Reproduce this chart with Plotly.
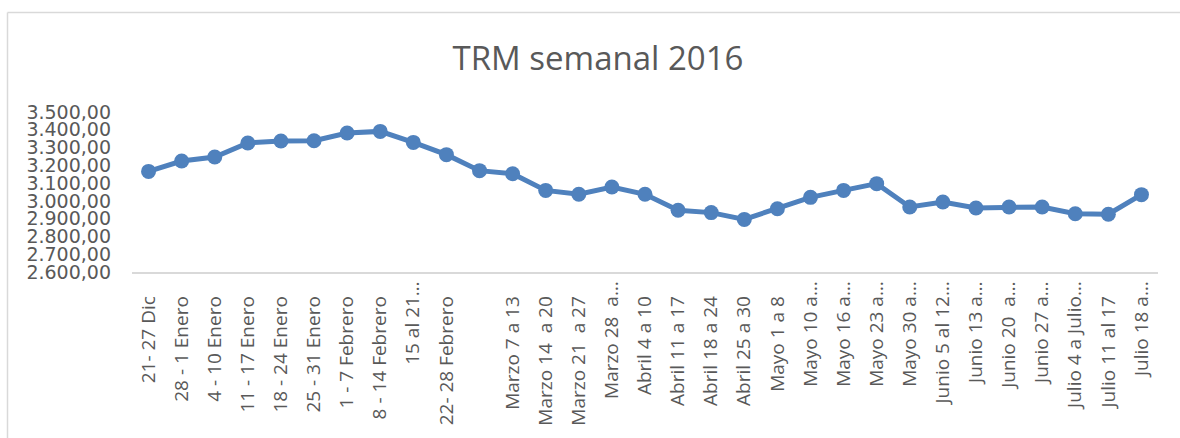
import plotly.graph_objects as go

categories = [
    "21- 27 Dic", "28 - 1 Enero", "4 - 10 Enero", "11 - 17 Enero", "18 - 24 Enero",
    "25 - 31 Enero", "1 - 7 Febrero", "8 - 14 Febrero", "15 al 21…", "22- 28 Febrero",
    "", "Marzo 7 a 13", "Marzo 14  a 20", "Marzo 21  a 27", "Marzo 28  a…",
    "Abril 4 a 10", "Abril 11 a 17", "Abril 18 a 24", "Abril 25 a 30", "Mayo 1 a 8",
    "Mayo 10 a…", "Mayo 16 a…", "Mayo 23 a…", "Mayo 30 a…", "Junio 5 al 12…",
    "Junio 13 a…", "Junio 20  a…", "Junio 27 a…", "Julio 4 a Julio…", "Julio 11 al 17",
    "Julio 18 a…",
]
trm = [
    3166, 3224, 3247, 3326, 3337, 3338, 3382, 3391, 3329, 3260,
    3170, 3153, 3059, 3037, 3078, 3037, 2947, 2934, 2896, 2956,
    3020, 3059, 3097, 2966, 2994, 2960, 2966, 2966, 2928, 2925,
    3035,
]
y_ticks = [2600, 2700, 2800, 2900, 3000, 3100, 3200, 3300, 3400, 3500]
y_tick_labels = ["2.600,00", "2.700,00", "2.800,00", "2.900,00", "3.000,00",
                 "3.100,00", "3.200,00", "3.300,00", "3.400,00", "3.500,00"]

x_idx = list(range(len(categories)))


def fmt(c):
    c = c.replace("  ", "\u00a0 ")
    if c == "" or c.endswith("…"):
        return c
    # labels that were not cut off sit a little further from the axis
    return c + "\u00a0\u00a0\u00a0"


tick_text = [fmt(c) for c in categories]

TEXT = "#595959"
LINE = "#4F81BD"

fig = go.Figure()
fig.add_trace(go.Scatter(
    x=x_idx, y=trm, mode="lines+markers",
    line=dict(color=LINE, width=5),
    marker=dict(color=LINE, size=15),
    showlegend=False,
    cliponaxis=False,
    hoverinfo="skip",
))

fig.update_layout(
    width=1180, height=438,
    margin=dict(l=132, r=22, t=112, b=166, autoexpand=False),
    paper_bgcolor="white", plot_bgcolor="white",
    font=dict(family="Open Sans", color=TEXT, size=19),
    title=dict(text="TRM semanal 2016", x=598 / 1180, xanchor="center",
               y=1 - 58 / 438, yanchor="middle",
               font=dict(family="Open Sans", size=33, color=TEXT)),
    xaxis=dict(
        range=[-0.5, len(categories) - 0.5],
        tickmode="array", tickvals=x_idx, ticktext=tick_text,
        tickangle=-90, ticks="", showgrid=False, zeroline=False,
        showline=True, linecolor="#D9D9D9", linewidth=1.5,
        tickfont=dict(family="Open Sans", size=19, color=TEXT),
        automargin=False,
    ),
    yaxis=dict(
        range=[2600, 3500],
        tickmode="array", tickvals=y_ticks, ticktext=y_tick_labels,
        ticks="", showgrid=False, zeroline=False, showline=False,
        tickfont=dict(family="DejaVu Sans", size=19, color=TEXT),
        automargin=False, ticklabelstandoff=20,
    ),
    shapes=[
        dict(type="line", xref="paper", yref="paper", layer="below",
             x0=-124.5 / 1026, x1=1.1, y0=1 + 99.5 / 160, y1=1 + 99.5 / 160,
             line=dict(color="#D9D9D9", width=1.5)),
        dict(type="line", xref="paper", yref="paper", layer="below",
             x0=-124.5 / 1026, x1=-124.5 / 1026, y0=1 + 99.5 / 160, y1=-1.2,
             line=dict(color="#D9D9D9", width=1.5)),
    ],
)

fig.write_html("out.html", config={"displayModeBar": False},
               post_script="document.body.style.margin='0px';document.body.style.overflow='hidden';")
